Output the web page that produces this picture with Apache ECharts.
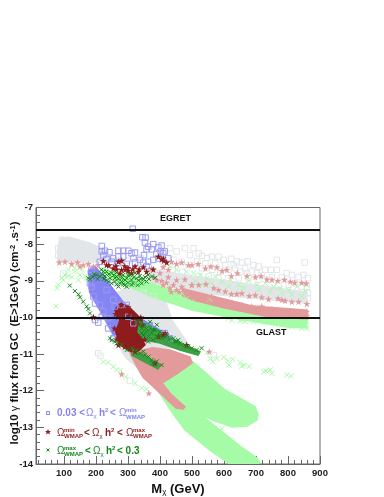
<!DOCTYPE html>
<html>
<head>
<meta charset="utf-8">
<title>flux</title>
<script src="https://cdn.jsdelivr.net/npm/echarts@6/dist/echarts.min.js"></script>
<style>
html,body{margin:0;padding:0;background:#fff}
#main{width:384px;height:497px}
</style>
</head>
<body>
<div id="main"></div>
<script>
var FONT = '"Liberation Sans", Arial, sans-serif';
var xMajor = [100,200,300,400,500,600,700,800,900];
var xMinor = [20,40,60,80,120,140,160,180,220,240,260,280,320,340,360,380,420,440,460,480,520,540,560,580,620,640,660,680,720,740,760,780,820,840,860,880];
var limitLines = [-7.61,-10];

// filled regions, outlines [mass, log flux]
var greyTopLeft = [[81,-8.05],[91,-7.83],[125,-7.83],[181,-7.97],[228,-8.16],[259,-8.49],[81,-8.49]];
var greyMiddle = [[269,-9.31],[306,-9.14],[362,-9.09],[409,-9.33],[437,-10.07],[475,-10.56],[494,-10.83],[369,-10.83],[306,-10.97],[325,-11.33],[294,-11.11],[259,-10.62],[228,-10.07],[212,-9.52]];
var greyBand = [[353,-8.65],[500,-8.87],[859,-9.31],[859,-9.61],[500,-9.31],[369,-9.03]];
var greenLobes = [[500,-11.19],[540,-11.49],[603,-11.98],[650,-12.2],[697,-12.44],[706,-12.64],[703,-12.8],[672,-12.96],[625,-12.99],[572,-12.83],[525,-12.64],[503,-12.53],[541,-12.75],[587,-13.07],[650,-13.51],[703,-13.84],[712,-13.95],[706,-14],[619,-14],[556,-13.62],[478,-13.07],[437,-12.58],[409,-12.2],[369,-11.7],[400,-11.44]];
var greenBand = [[212,-8.65],[369,-9.06],[500,-9.42],[650,-9.74],[859,-9.96],[859,-10.29],[806,-10.27],[650,-10.05],[500,-9.8],[369,-9.42],[244,-8.92]];
var pinkWedge = [[306,-10.97],[378,-10.83],[431,-10.89],[494,-11.08],[500,-11.24],[456,-11.52],[406,-11.79],[437,-12.12],[478,-12.44],[472,-12.5],[450,-12.47],[400,-12.06],[347,-11.63],[325,-11.3]];
var pinkBand = [[470,-9.22],[500,-9.28],[688,-9.69],[859,-9.8],[859,-10.04],[728,-9.96],[603,-9.74],[500,-9.52],[470,-9.4]];
var blueRegion = [[176,-8.72],[197,-8.6],[225,-8.9],[285,-9.58],[337,-10.02],[431,-10.51],[450,-10.75],[369,-10.62],[291,-10.75],[255,-10.48],[215,-9.85],[180,-9.31]];
var redRegion = [[275,-9.61],[306,-9.74],[344,-10.07],[337,-10.48],[353,-10.75],[322,-11],[275,-10.75],[262,-10.4],[275,-10.07],[259,-9.8]];
var ridgeUpper = [[337,-10.12],[369,-10.23],[416,-10.48],[478,-10.75],[525,-10.94],[519,-11.03],[462,-10.89],[400,-10.7],[353,-10.62],[331,-10.4]];
var ridgeLower = [[316,-10.89],[353,-11.05],[400,-11.3],[394,-11.41],[353,-11.22],[312,-11.03]];

// single markers
var greySquares = [[505,-8.11],[521,-8.25],[531,-8.32],[547,-8.38],[562,-8.34],[583,-8.34],[599,-8.43],[623,-8.4],[640,-8.47],[656,-8.5],[674,-8.47],[765,-8.43],[852,-8.5],[516,-8.47],[542,-8.52],[573,-8.52],[604,-8.57],[630,-8.57],[666,-8.66],[692,-8.57],[708,-8.61],[687,-8.75],[729,-8.7],[746,-8.7],[765,-8.7],[796,-8.79],[812,-8.84],[833,-8.9],[848,-8.84],[862,-8.93],[635,-8.66],[614,-8.7],[588,-8.75],[562,-8.7],[531,-8.66],[651,-8.75],[672,-8.79],[703,-8.79],[718,-8.84],[750,-8.9],[781,-8.9],[859,-9.16],[843,-9.16],[822,-9.07],[802,-9.11],[770,-9.11],[739,-8.97],[708,-8.97],[677,-8.93],[646,-8.93],[614,-8.93],[583,-8.93],[552,-8.88],[521,-8.88],[862,-9.34],[862,-9.48],[431,-8.11],[452,-8.2],[478,-8.11],[494,-8.3],[442,-8.43],[468,-8.48],[489,-8.57],[98,-8.8],[93,-7.88],[114,-7.88],[134,-7.96],[155,-8.02],[176,-8.07],[82,-8.11],[202,-8.2],[82,-8.3],[223,-8.34],[421,-9.88],[442,-10.34],[348,-9.34],[379,-9.43],[410,-9.66],[306,-9.43],[207,-10.98],[214,-11.05],[306,-11.73],[568,-11.03],[240,-8.42],[265,-8.45],[300,-8.45],[340,-8.38],[285,-8.3],[200,-8.4],[410,-8.5],[440,-8.7],[470,-8.75]];
var greenCrosses = [[75,-9.69],[82,-9.11],[79,-9.2],[93,-8.93],[103,-8.84],[114,-8.7],[124,-8.57],[134,-8.75],[124,-8.9],[150,-8.84],[145,-8.98],[166,-8.88],[134,-8.66],[155,-8.7],[171,-8.93],[114,-8.87],[98,-8.98],[431,-8.61],[452,-8.7],[483,-8.75],[369,-9.16],[400,-9.25],[442,-9.34],[483,-9.48],[462,-9.57],[499,-9.57],[421,-9.48],[379,-9.34],[296,-9.16],[337,-9.2],[505,-8.79],[526,-8.84],[547,-8.93],[573,-8.88],[594,-9.02],[620,-8.97],[646,-9.11],[677,-9],[703,-9.11],[729,-9.07],[755,-9.16],[776,-9.2],[802,-9.25],[828,-9.16],[854,-9.29],[859,-9.11],[510,-9.02],[536,-9.11],[562,-9.07],[614,-9.16],[661,-9.2],[708,-9.25],[744,-9.29],[781,-9.34],[812,-9.38],[843,-9.43],[500,-9.66],[531,-9.7],[573,-9.88],[614,-10.02],[656,-10.07],[692,-10.11],[739,-10.16],[781,-10.2],[812,-10.26],[843,-10.3],[859,-10.11],[625,-10.08],[666,-10.11],[833,-10.2],[547,-10.96],[557,-11.12],[565,-11.21],[578,-11.12],[599,-11.09],[612,-11.18],[627,-11.14],[616,-11.3],[651,-11.23],[656,-11.33],[664,-11.3],[679,-11.34],[724,-11.48],[731,-11.46],[744,-11.43],[750,-11.53],[796,-11.57],[810,-11.6],[594,-13.03],[583,-13.12],[223,-11.21],[238,-11.23],[254,-11.34],[264,-11.43],[277,-11.45],[293,-11.62],[322,-11.8],[343,-11.93],[358,-11.96],[300,-9.05],[350,-9.02],[420,-9.2],[470,-9.35],[555,-9.5],[600,-9.98],[650,-10.09],[720,-10.15],[760,-10.2],[800,-10.24],[860,-10.3]];
var pinkStars = [[85,-8.5],[103,-8.48],[124,-8.54],[142,-8.5],[160,-8.57],[176,-8.54],[192,-8.61],[150,-8.61],[207,-8.57],[436,-8.48],[452,-8.54],[468,-8.5],[489,-8.57],[426,-8.7],[410,-8.63],[374,-8.66],[400,-8.79],[426,-8.9],[452,-8.98],[478,-8.96],[499,-9.11],[390,-8.98],[410,-9.11],[431,-9.2],[452,-9.25],[468,-9.16],[483,-9.34],[499,-9.38],[442,-9.11],[500,-8.57],[519,-8.54],[542,-8.66],[559,-8.61],[578,-8.63],[594,-8.73],[609,-8.7],[623,-8.87],[642,-8.79],[672,-8.87],[698,-8.9],[716,-8.87],[734,-8.96],[750,-8.97],[768,-9],[789,-8.97],[807,-9.02],[821,-9.05],[843,-9.05],[857,-9.07],[500,-9.11],[521,-9.11],[544,-9.09],[568,-9.2],[583,-9.25],[604,-9.29],[623,-9.36],[640,-9.36],[656,-9.34],[679,-9.41],[698,-9.39],[718,-9.45],[739,-9.5],[769,-9.48],[791,-9.54],[812,-9.57],[833,-9.57],[859,-9.63],[781,-9.52],[500,-9.38],[531,-9.43],[562,-9.43],[594,-9.57],[625,-9.59],[656,-9.66],[687,-9.7],[718,-9.7],[750,-9.77],[771,-9.84],[802,-9.84],[833,-9.88],[859,-9.84],[859,-9.96],[791,-9.97],[750,-9.88],[708,-9.84],[672,-9.75],[635,-9.7],[604,-9.66],[573,-9.61],[547,-9.48],[516,-9.48],[280,-11.55],[365,-12.07],[554,-10.93],[380,-8.9],[420,-9.05],[460,-9.3],[405,-9.0],[435,-9.3],[475,-9.25]];
var blueSquares = [[315,-7.58],[345,-7.81],[355,-7.82],[353,-7.96],[363,-8.07],[358,-8.14],[379,-8],[395,-8.09],[405,-8.04],[402,-8.2],[410,-8.25],[389,-8.27],[415,-8.2],[374,-8.14],[350,-8.3],[363,-8.48],[379,-8.43],[395,-8.39],[426,-8.39],[218,-8.05],[218,-8.2],[228,-8.18],[242,-8.22],[270,-8.18],[285,-8.18],[301,-8.18],[311,-8.25],[322,-8.23],[223,-8.3],[254,-8.39],[270,-8.34],[285,-8.34],[317,-8.39],[337,-8.43],[249,-8.48],[270,-8.52],[296,-8.54],[322,-8.5],[348,-8.5],[233,-8.41],[358,-8.6],[212,-8.48],[186,-8.7],[207,-10.14],[197,-10.07],[181,-9.07],[192,-9.43],[259,-9.7],[280,-9.66],[233,-9.25],[254,-9.52],[212,-9.66],[223,-9.84],[238,-10.02],[301,-9.98],[317,-10.16],[186,-9.16],[197,-9.62],[218,-9.98],[238,-10.3],[254,-10.57],[296,-9.66],[415,-10.43],[431,-10.57],[368,-10.21]];
var redStars = [[223,-8.46],[254,-8.66],[264,-8.69],[280,-8.7],[301,-8.73],[322,-8.61],[348,-8.63],[379,-8.69],[270,-8.48],[280,-8.45],[291,-8.7],[311,-8.79],[332,-8.75],[358,-8.75],[233,-8.57],[275,-8.8],[395,-8.34],[405,-8.41],[412,-8.45],[421,-8.5],[410,-8.39],[192,-9.99],[280,-9.66],[290,-9.8],[275,-9.84],[306,-9.89],[322,-10.02],[332,-10.16],[280,-10.43],[270,-10.57],[327,-10.48],[316,-10.66],[290,-10.8],[337,-10.62],[270,-9.98],[270,-10.75],[286,-10.48],[322,-10.93],[306,-10.84],[301,-10.66],[410,-10.48],[395,-10.52],[483,-10.75],[384,-11.25],[416,-10.43],[240,-8.58],[300,-8.65],[335,-8.68],[290,-8.6],[262,-8.6],[315,-8.68],[262,-9.9],[345,-10.2],[352,-10.6],[265,-10.6],[258,-10.3],[340,-10.0],[300,-9.72]];
var darkGreenCrosses = [[343,-10.3],[358,-10.39],[374,-10.43],[390,-10.52],[405,-10.57],[426,-10.62],[447,-10.66],[462,-10.71],[478,-10.75],[499,-10.84],[514,-10.89],[530,-10.84],[353,-10.2],[369,-10.3],[384,-10.34],[400,-10.39],[421,-10.48],[442,-10.57],[364,-10.52],[379,-10.62],[348,-10.48],[457,-10.62],[488,-10.8],[338,-10.16],[390,-10.2],[343,-10.43],[369,-10.12],[312,-10.84],[327,-10.89],[338,-10.98],[353,-11.02],[364,-11.07],[374,-11.16],[390,-11.2],[405,-11.3],[348,-10.93],[379,-11.25],[249,-10.62],[265,-10.71],[280,-10.75],[296,-10.89],[327,-10.11],[342,-10.21],[358,-10.3],[379,-10.34],[400,-10.48],[420,-10.52],[389,-10.52],[348,-10.48],[363,-10.66],[452,-10.66],[118,-9.13],[134,-9.28],[145,-9.37],[150,-9.45],[160,-9.57],[171,-9.7],[176,-9.77],[181,-9.89],[244,-10.57],[259,-10.66],[176,-8.93],[181,-8.96],[202,-8.84],[217,-8.7],[233,-8.75],[249,-8.79],[264,-8.88],[280,-8.93],[296,-9.16],[311,-8.98],[327,-8.93],[343,-9.07],[358,-9.02],[363,-8.84],[212,-8.88],[228,-8.87],[244,-8.93],[259,-9.02],[275,-9.07],[291,-8.98],[306,-8.84],[322,-8.79],[337,-8.87],[353,-8.9],[270,-9.16],[249,-9.07],[285,-8.84],[264,-8.78],[233,-8.98],[316,-9.07],[332,-8.99],[223,-8.75],[296,-8.93],[280,-9.02],[348,-8.96],[259,-8.93],[311,-9.11],[190,-8.9],[205,-8.95],[220,-8.82],[240,-8.82],[255,-8.85],[270,-8.95],[285,-9.1],[300,-9.05],[318,-8.9],[340,-8.95],[365,-8.95],[375,-8.88],[385,-8.92],[240,-9.02],[265,-9.1],[300,-8.85],[225,-8.95],[290,-9.12],[330,-9.12],[195,-8.82]];

var GREY = '#e2e6e8', LGREEN = '#a6fca6', PINK = '#e29a9a', BLUE = '#8484f2', RED = '#8e1c1c', DGREEN = '#12881a';
var STAR = 'path://M5 0L6.2 3.6L10 3.6L6.9 5.9L8.1 9.6L5 7.3L1.9 9.6L3.1 5.9L0 3.6L3.8 3.6Z';
var CROSS = 'path://M0 0L10 10M10 0L0 10';

function region(pts, color) {
    return {
        type: 'custom', silent: true, clip: true, data: pts,
        renderItem: function (params, api) {
            if (params.dataIndex !== 0) return null;
            return {
                type: 'polygon',
                shape: { points: pts.map(function (p) { return api.coord(p); }) },
                style: { fill: color, stroke: color, lineWidth: 1.5 }
            };
        }
    };
}
function markers(pts, symbol, size, color, outline) {
    return {
        type: 'scatter', silent: true, data: pts, symbol: symbol, symbolSize: size,
        itemStyle: outline
            ? { color: 'rgba(0,0,0,0)', borderColor: color, borderWidth: 1, opacity: 1 }
            : { color: color, opacity: 1 }
    };
}
function txt(x, y, s, size, color, bold) {
    return {
        type: 'text', x: x, y: y, silent: true,
        style: {
            text: s, fill: color, font: (bold === false ? '' : 'bold ') + size + 'px ' + FONT,
            textVerticalAlign: 'middle', textAlign: 'left'
        }
    };
}
// Omega with the stacked upper and lower index
function omega(x, y, up, color) {
    return [
        txt(x, y, 'Ω', 10, color, false),
        txt(x + 7, y - 3, up, 6, color),
        txt(x + 7, y + 3.5, 'WMAP', 6, color)
    ];
}
function omegaChi(x, y, color) {
    return [
        txt(x, y, 'Ω', 10, color, false),
        txt(x + 7.5, y + 3, 'χ', 6, color, false),
        txt(x + 13, y, 'h', 10, color),
        txt(x + 19, y - 3, '2', 6, color)
    ];
}

var legendParts = [].concat(
    txt(57, 413.5, '0.03 <', 10, BLUE),
    omegaChi(86, 413.5, BLUE),
    txt(110, 413.5, '<', 10, BLUE),
    omega(119, 413.5, 'min', BLUE),
    omega(57, 433, 'min', RED),
    txt(84, 433, '<', 10, RED),
    omegaChi(92, 433, RED),
    txt(117, 433, '<', 10, RED),
    omega(126, 433, 'max', RED),
    omega(57, 451, 'max', DGREEN),
    txt(85, 451, '<', 10, DGREEN),
    omegaChi(93, 451, DGREEN),
    txt(117, 451, '< 0.3', 10, DGREEN),
    txt(160, 219, 'EGRET', 9, '#111'),
    txt(256, 333, 'GLAST', 9, '#111'),
    { type: 'rect', silent: true, shape: { x: 46.5, y: 411.5, width: 3, height: 3 }, style: { fill: 'none', stroke: BLUE, lineWidth: 1 } },
    { type: 'polygon', silent: true, shape: { points: [[48,429],[48.9,431],[51,431],[49.4,432.3],[50,434.5],[48,433.2],[46,434.5],[46.6,432.3],[45,431],[47.1,431]] }, style: { fill: RED } },
    { type: 'polyline', silent: true, shape: { points: [[46.5,448.5],[49.5,451.5]] }, style: { stroke: DGREEN, lineWidth: 1, fill: 'none' } },
    { type: 'polyline', silent: true, shape: { points: [[49.5,448.5],[46.5,451.5]] }, style: { stroke: DGREEN, lineWidth: 1, fill: 'none' } },
    // y axis title
    {
        type: 'text', x: 15, y: 333, rotation: Math.PI / 2, silent: true,
        style: {
            text: '{m|log10 }{g|γ}{m| flux from GC  (E>1GeV) (cm}{u|-2}{m| .s}{u|-1}{m|)}',
            align: 'center', verticalAlign: 'middle',
            rich: {
                m: { fontFamily: FONT, fontWeight: 'bold', fontSize: 11.5, fill: '#111' },
                g: { fontFamily: FONT, fontSize: 11, fill: '#111' },
                u: { fontFamily: FONT, fontWeight: 'bold', fontSize: 7.5, fill: '#111', verticalAlign: 'top' }
            }
        }
    }
);

var series = [
    region(greyTopLeft, GREY),
    region(greyMiddle, GREY),
    region(greyBand, GREY),
    markers(greySquares, 'rect', 5.5, GREY, true),
    region(greenLobes, LGREEN),
    region(greenBand, LGREEN),
    markers(greenCrosses, CROSS, 5, LGREEN, true),
    region(pinkWedge, PINK),
    region(pinkBand, PINK),
    markers(pinkStars, STAR, 7, PINK, false),
    region(blueRegion, BLUE),
    markers(blueSquares, 'rect', 5.5, '#9a9af4', true),
    region(redRegion, RED),
    markers(redStars, STAR, 7, RED, false),
    region(ridgeUpper, '#3f9f45'),
    region(ridgeLower, '#3f9f45'),
    markers(darkGreenCrosses, CROSS, 4, DGREEN, true),
    {
        type: 'line', silent: true, data: [], xAxisIndex: 0,
        markLine: {
            silent: true, symbol: 'none', animation: false,
            label: { show: false },
            lineStyle: { color: '#111', width: 2, type: 'solid' },
            data: limitLines.map(function (v) { return { yAxis: v }; })
        }
    }
];

var chart = echarts.init(document.getElementById('main'), null, { renderer: 'canvas' });
chart.setOption({
    animation: false,
    backgroundColor: '#fff',
    grid: { left: 36, right: 64, top: 207.5, bottom: 33, outerBoundsMode: 'none', show: true, borderColor: '#666', borderWidth: 1, backgroundColor: 'transparent' },
    xAxis: [{
        type: 'value', min: 12.5, max: 900, position: 'bottom',
        name: '{m|M}{s|χ}{m| (GeV)}', nameLocation: 'middle', nameGap: 14,
        nameTextStyle: { rich: {
            m: { fontFamily: FONT, fontWeight: 'bold', fontSize: 13, color: '#111' },
            s: { fontFamily: FONT, fontSize: 8, color: '#111', verticalAlign: 'bottom' }
        } },
        axisLine: { show: true, lineStyle: { color: '#666' } },
        axisTick: { show: true, inside: true, length: 8, lineStyle: { color: '#666' }, customValues: xMajor },
        axisLabel: { customValues: xMajor, fontFamily: FONT, fontWeight: 'bold', fontSize: 9.5, color: '#222', margin: 4, hideOverlap: false },
        splitLine: { show: false }
    }, {
        type: 'value', min: 12.5, max: 900, position: 'bottom',
        axisLine: { show: false },
        axisTick: { show: true, inside: true, length: 4, lineStyle: { color: '#666' }, customValues: xMinor },
        axisLabel: { show: false },
        splitLine: { show: false }
    }],
    yAxis: {
        type: 'value', min: -14, max: -7, interval: 1,
        axisLine: { show: true, lineStyle: { color: '#666' } },
        axisTick: { show: true, inside: true, length: 8, lineStyle: { color: '#666' } },
        minorTick: { show: true, splitNumber: 5, length: 4, lineStyle: { color: '#666' } },
        axisLabel: { fontFamily: FONT, fontWeight: 'bold', fontSize: 9.5, color: '#222', margin: 3 },
        splitLine: { show: false }
    },
    graphic: { elements: legendParts },
    series: series
});
</script>
</body>
</html>
